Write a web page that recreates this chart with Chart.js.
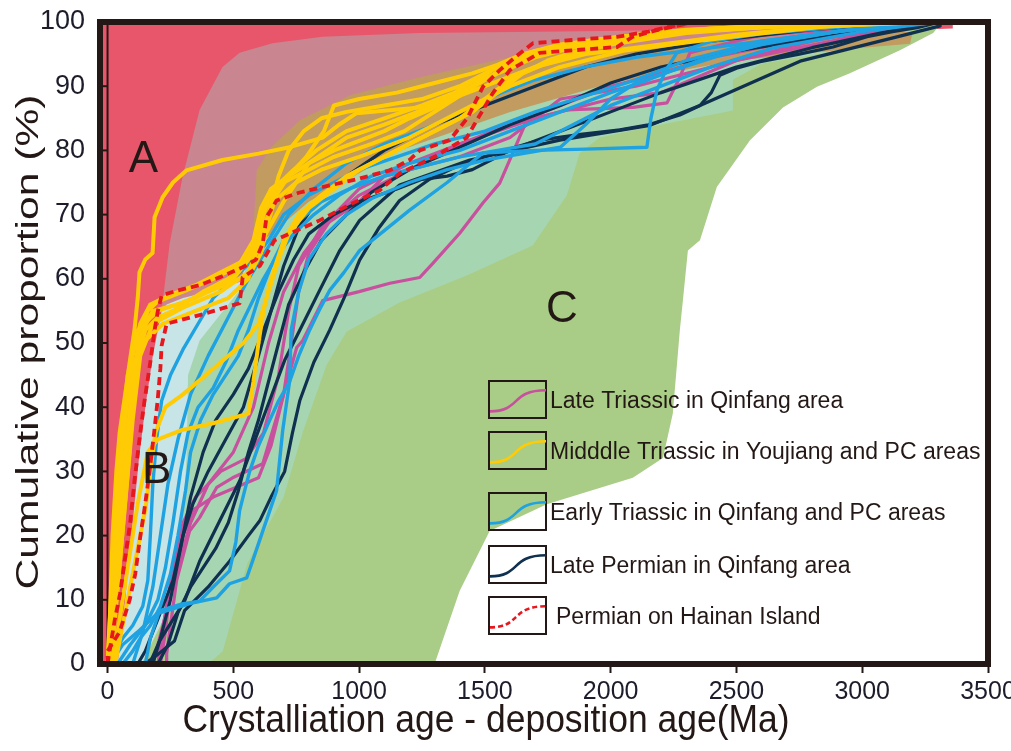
<!DOCTYPE html>
<html>
<head>
<meta charset="utf-8">
<script src="https://cdn.jsdelivr.net/npm/chart.js@4.4.0/dist/chart.umd.min.js"></script>
<style>
  html, body { margin: 0; padding: 0; background: #ffffff; }
  canvas { display: block; }
</style>
</head>
<body>
<canvas id="chart" width="1011" height="751"></canvas>
<script>
// Axis ticks
const xTicks = [0, 500, 1000, 1500, 2000, 2500, 3000, 3500];
const yTicks = [0, 10, 20, 30, 40, 50, 60, 70, 80, 90, 100];

// Tectonic-setting fields, outlined as [age difference (Ma), cumulative %]
const fieldA = [[-30,0],[-30,100],[3360,100],[3360,99],[2000,97],[1000,90],[600,75],[350,60],[260,50],[200,35],[150,20],[110,8],[80,0]];
const fieldB = [[40,0],[55,5],[70,10],[100,22],[125,32],[150,40],[180,48],[205,53],[215,55],[235,56.5],[300,57.5],[400,58.5],[525,60],[560,63.5],[577,66],[560,55],[450,40],[330,20],[270,0]];
const fieldAB = [[215,55.1],[247,65.5],[298,75.8],[366,86.3],[457,93],[525,95.2],[656,96.7],[855,97.7],[1241,98.3],[2000,98.6],[2800,99.2],[3340,100],[3200,97],[2500,93],[1500,85],[900,72],[600,66],[577,65.5],[540,61],[525,59.5],[400,58],[300,57],[235,56]];
const fieldC = [[135,0],[1300,0],[1400,11.4],[1519,20.7],[1746,24.9],[2088,29],[2208,32.1],[2247,39],[2275,52],[2287,56.6],[2307,64.4],[2355,66],[2422,74.3],[2554,81.6],[2685,86.7],[2820,89.9],[2951,92],[3150,95.6],[3282,98.3],[3301,99.2],[3330,100],[3100,98.5],[2500,94],[2000,88],[1500,80],[900,72],[600,62],[380,50],[320,30],[260,10]];
const fieldBC = [[230,0],[250,5],[286,15],[314,32],[320,45],[366,50.4],[525,58.2],[577,65.5],[800,74],[1160,82],[1600,88],[2000,91],[2500,94],[3000,96.5],[3200,97.5],[2600,93.5],[2486,91],[2486,86.2],[2355,85.2],[2223,84.2],[1957,82],[1877,79.6],[1826,73],[1690,65.2],[1428,60.5],[1161,56.3],[951,51.8],[871,46.6],[776,36.1],[700,26],[555,15.6],[458,2],[400,0]];
const fieldABC = [[577,65.5],[593,76.9],[650,80.5],[764,84.7],[963,88.6],[1241,91.4],[1679,95.2],[2355,97.2],[2800,97.6],[3000,98.4],[3120,98.8],[3200,98.3],[3190,96.6],[3000,96],[2500,94],[2000,90.5],[1600,86],[1160,80],[800,72],[590,65]];

// Cumulative age-difference curves, [Ma, %]
const lateTriassicQinfang = [
  [[235,0],[235,1.6],[274,12.9],[326,20.7],[366,22.8],[434,27.5],[497,29],[617,31.2],[656,36.3],[696,41.5],[752,49.3],[776,50.4],[855,56.6],[1000,58],[1122,59.3],[1241,60.2],[1293,62.4],[1400,67.1],[1492,71.8],[1559,74.9],[1611,79.6],[1667,84.7],[1826,86.3],[2088,86.7],[2224,87.4],[2275,91.4],[2315,95.2],[2600,98],[3300,100]],
  [[210,0],[230,5],[250,12],[300,20],[340,24],[420,26],[600,29],[650,34],[700,42],[730,50],[760,58],[800,64],[900,70],[1000,74],[1200,78],[1400,81],[1700,85],[2000,88],[2200,89],[2500,94],[3000,98],[3300,100]],
  [[200,0],[230,8],[260,15],[300,22],[350,26],[450,30],[550,32],[620,36],[680,45],[720,55],[760,62],[850,68],[1000,72],[1100,76],[1400,79],[1600,82],[1800,88],[2100,90],[2400,93],[2800,97],[3200,100]],
  [[180,0],[220,6],[270,14],[330,22],[400,28],[500,33],[580,40],[640,50],[700,58],[780,64],[880,69],[1000,73],[1200,77],[1400,81],[1600,84],[1800,87],[2000,90],[2200,92],[2400,94.5],[2700,96.8],[3000,98.3],[3300,100]]
];
const middleTriassicYoujiangPC = [
  [[0,0],[10,8],[20,20],[35,30],[48,36],[70,42],[88,47],[107,52],[120,57],[127,61],[150,63],[179,64],[187,69.6],[219,72.7],[260,75],[314,76.9],[457,78.5],[600,79.5],[724,80.5],[855,82],[920,84],[990,85.8],[1241,86.7],[1350,88],[1450,90],[1550,92],[1700,94.5],[1900,96.5],[2100,97.8],[2400,98.8],[2800,99.6],[3300,100]],
  [[0,0],[15,6],[30,12],[50,22],[70,32],[90,40],[110,47],[130,51],[160,55],[200,56.5],[300,58],[420,60],[520,62],[580,66],[610,71],[650,74],[720,76],[800,78],[900,80],[1000,81.5],[1100,83],[1200,85],[1320,87],[1420,89],[1500,91],[1580,93],[1700,95],[1900,96.8],[2200,98.2],[2600,99.3],[3300,100]],
  [[10,0],[25,5],[45,14],[65,23],[85,32],[105,42],[125,48],[150,52],[200,54],[260,55],[380,58],[480,60],[560,63],[600,68],[640,73],[700,75],[800,77],[900,79],[1050,81],[1180,83],[1300,86],[1400,88.5],[1480,91],[1560,93.5],[1650,95],[1800,96.5],[2000,97.5],[2300,98.8],[2800,99.7],[3200,100]],
  [[20,0],[40,5],[60,10],[80,15],[100,20],[120,25],[140,29],[160,33],[200,35],[300,36.5],[420,37.5],[560,39],[580,44],[600,50],[620,55],[650,60],[700,66],[760,70],[850,73],[950,76],[1100,79],[1250,82],[1400,85],[1500,88],[1600,91],[1750,94],[1950,96.5],[2300,98.5],[2800,99.6],[3300,100]],
  [[30,0],[60,6],[90,12],[120,18],[150,24],[170,30],[190,36],[230,40],[300,42],[420,46],[540,50],[600,53],[640,58],[680,63],[720,67],[800,71],[900,74],[1000,77],[1150,80],[1300,83],[1450,86],[1550,89],[1650,92],[1800,94.5],[2000,96.5],[2300,98.3],[2700,99.5],[3300,100]],
  [[0,0],[20,10],[40,22],[60,33],[80,42],[100,48],[130,53],[170,56],[250,57.5],[350,59],[450,61],[550,63],[600,66],[640,70],[680,76],[720,80],[780,83],[850,85],[950,86],[1100,87],[1250,88],[1400,90],[1550,93],[1700,95.5],[1900,97],[2200,98.5],[2700,99.6],[3200,100]],
  [[5,0],[25,8],[45,18],[70,30],[95,40],[115,47],[140,52],[180,55],[280,56],[400,58],[500,59.5],[570,61],[610,64],[640,69],[670,73],[720,76],[790,79],[860,83],[900,87],[1000,88],[1150,89],[1300,90.5],[1450,92],[1600,94],[1800,96],[2100,97.8],[2500,99],[3100,100]],
  [[0,0],[8,3],[15,10],[30,20],[50,30],[75,40],[100,46],[140,50],[220,53],[350,55],[480,57],[560,60],[590,64],[620,70],[660,74],[740,77],[830,80],[950,83],[1100,85],[1250,87],[1380,89],[1480,91.5],[1600,94],[1750,96],[2000,97.5],[2400,99],[3000,100]],
  [[0,0],[20,15],[45,30],[80,45],[120,52],[200,55],[350,57],[500,60],[600,65],[700,72],[800,78],[950,82],[1100,84],[1300,87],[1500,90],[1700,93],[1900,95],[2100,96],[2300,97],[2500,98],[2800,99.2],[3200,100]],
  [[10,0],[40,12],[70,25],[100,38],[130,48],[180,53],[300,55.5],[450,58],[560,61],[620,67],[660,72],[750,75],[850,77],[1000,79],[1200,82],[1400,86],[1600,90],[1800,93],[2050,95.5],[2300,96.8],[2550,98],[2850,99.3],[3250,100]]
];
const earlyTriassicQinfangPC = [
  [[150,0],[170,4],[207,8.3],[290,9.3],[366,9.8],[420,12],[485,14.5],[510,19],[525,23.9],[545,27],[565,30],[600,34],[644,37.9],[680,41],[724,44],[760,48],[803,52],[840,55],[883,58.2],[940,61],[1002,64.4],[1100,67.5],[1201,70.7],[1350,75],[1492,79.6],[1700,80],[1900,80.2],[2144,80.5],[2160,85],[2184,89.4],[2220,92.5],[2263,95.2],[2400,97],[2600,98.2],[3000,99.5],[3320,100]],
  [[10,0],[60,3],[120,5],[195,7.8],[326,9.4],[434,10.3],[485,12.5],[553,13.4],[577,16.1],[617,20.7],[672,27],[696,36.3],[724,44.1],[730,52],[760,58],[800,63],[870,67],[950,70],[1050,72.5],[1200,75],[1350,77],[1500,78.5],[1650,79.5],[1800,80.5],[1900,84],[2000,88],[2100,90.5],[2250,92.5],[2450,95],[2700,97.5],[3000,99],[3300,100]],
  [[0,0],[30,2],[60,4],[100,6],[140,9],[160,13],[170,20],[180,28],[195,35],[215,41],[250,45],[300,49],[360,53],[420,57],[500,60],[580,63],[640,66],[700,70],[800,73],[900,75],[1000,77],[1150,79],[1300,81],[1500,83],[1700,86],[1900,88.5],[2100,91],[2300,94],[2600,97],[3000,99],[3300,100]],
  [[40,0],[90,3],[150,6],[200,10],[230,15],[260,22],[290,30],[320,36],[360,40],[420,43],[470,47],[520,52],[570,56],[620,60],[680,64],[740,67],[820,70],[920,73],[1050,76],[1200,78],[1400,80],[1600,83],[1800,86],[2000,89],[2150,91],[2350,94],[2600,96.5],[2900,98.5],[3300,100]],
  [[60,0],[100,2],[130,4],[170,6],[210,9],[250,14],[280,20],[310,27],[330,33],[370,38],[420,42],[470,45],[520,48],[560,52],[600,57],[650,62],[700,66],[760,69],[850,72],[960,74],[1100,76],[1250,77.5],[1400,79],[1550,80],[1700,81],[1850,84],[2000,87],[2200,90],[2400,93],[2650,96],[3000,98.5],[3300,100]],
  [[100,0],[140,5],[180,12],[210,20],[240,28],[280,35],[330,42],[400,48],[480,54],[560,60],[640,65],[720,70],[820,74],[950,78],[1100,81],[1300,84],[1500,88],[1700,91],[1900,93],[2100,94.5],[2300,95.5],[2500,96.5],[2750,97.8],[3000,99],[3320,100]]
];
const latePermianQinfang = [
  [[147,0],[200,1.5],[266,3.6],[306,8.3],[400,12],[485,16],[560,20],[605,22.3],[650,26],[704,30],[735,36],[764,41],[820,47],[883,52],[940,57],[1002,62.9],[1080,68],[1161,72.2],[1280,75.5],[1400,77.7],[1560,79.8],[1718,81.6],[1880,82.5],[2037,83.2],[2150,84],[2275,85.5],[2355,87],[2400,89],[2434,91.7],[2500,92.8],[2594,93.8],[2750,95],[2884,96.1],[3019,97.7],[3120,98.5],[3218,99.1],[3290,99.8]],
  [[167,0],[207,3.6],[306,9.8],[366,16],[446,22.3],[525,28.5],[585,34.8],[644,41],[704,47.3],[764,52],[843,58.2],[923,64.4],[1002,69.1],[1161,74.6],[1440,78.5],[1798,81.6],[2156,83.9],[2355,87],[2753,93.9],[3150,97.8],[3310,99.4]],
  [[180,0],[210,4],[250,10],[290,18],[330,26],[380,33],[430,38],[500,42],[560,46],[620,52],[680,58],[740,63],[800,67],[900,70],[1000,72],[1150,74],[1250,75.5],[1350,76],[1450,77],[1600,80],[1800,83],[2000,86],[2200,89],[2500,93],[2800,96],[3100,98.5],[3300,100]],
  [[120,0],[150,2],[180,5],[220,9],[260,13],[300,20],[340,25],[400,30],[470,35],[540,40],[600,48],[650,55],[700,62],[760,68],[830,72],[950,76],[1100,80],[1300,84],[1500,87],[1700,90],[1900,93],[2100,95],[2400,97],[2800,98.8],[3200,100]],
  [[200,0],[240,3],[280,8],[330,12],[380,15],[430,18],[480,22],[520,27],[560,33],[600,38],[640,44],[680,50],[720,56],[780,61],[850,66],[950,70],[1050,73.5],[1200,77],[1400,80.5],[1600,84],[1800,87],[2000,90.5],[2200,93],[2500,95.5],[2900,98],[3250,100]]
];
const permianHainan = [
  [[0,0],[8,2],[28,6.7],[50,11],[68,16],[90,22],[107,28.5],[130,36],[147,41],[170,47],[187,52],[200,55],[215,57.4],[280,58.2],[366,59],[450,60.3],[537,61.8],[590,63],[617,65.5],[632,69.6],[672,72.2],[760,73.4],[855,74.3],[990,75.5],[1122,76.9],[1200,78.5],[1241,80],[1360,81.6],[1430,85],[1492,89.9],[1559,92.5],[1620,94.5],[1691,96.7],[1850,97.2],[2025,97.7],[2150,98.5],[2224,99.2],[2303,99.8]],
  [[0,0],[0,2],[48,5],[88,10],[110,14],[127,19],[150,25],[167,30],[185,36],[199,41],[210,46],[215,49.6],[235,53],[380,54.5],[525,56.2],[537,60.2],[605,62],[664,66],[750,67.5],[843,69.1],[960,71.5],[1082,73.8],[1161,76.4],[1300,79],[1428,82],[1480,85.5],[1531,88.9],[1599,92.5],[1718,95.2],[2025,96.1],[2088,97.7],[2180,98.7],[2275,99.5],[2335,100]]
];

// Legend entries, axis titles and field labels
const legendLabels = [
  'Late Triassic in Qinfang area',
  'Midddle Triassic in Youjiang and PC areas',
  'Early Triassic in Qinfang and PC areas',
  'Late Permian in Qinfang area',
  'Permian on Hainan Island'
];
const xTitle = 'Crystalliation age - deposition age(Ma)';
const yTitle = 'Cumulative proportion (%)';
const fieldLetters = [['A', 143, 78.6], ['B', 195, 30.1], ['C', 1806, 55.1]];

const INK = '#231815';
const COLORS = {
  late: '#c8509e', middle: '#ffcb05', early: '#1fa2e1', permian: '#10304f', hainan: '#e8161d'
};

const toXY = pts => pts.map(([x, y]) => ({ x, y }));

function fieldDataset(pts, color, order) {
  return { data: toXY(pts), fill: 'shape', backgroundColor: color, borderWidth: 0,
           borderColor: 'rgba(0,0,0,0)', pointRadius: 0, order };
}
function curveDatasets(group, color, order, width, dash) {
  return group.map(pts => ({
    data: toXY(pts), fill: false, borderColor: color, borderWidth: width,
    borderDash: dash || [], pointRadius: 0, order, borderJoinStyle: 'round', borderCapStyle: dash ? 'butt' : 'round'
  }));
}

const datasets = [
  fieldDataset(fieldA, '#e8566b', 100),
  fieldDataset(fieldB, '#c7e5e6', 99),
  fieldDataset(fieldAB, '#c98690', 98),
  fieldDataset(fieldC, '#a9cd86', 97),
  fieldDataset(fieldBC, '#a6d5b2', 96),
  fieldDataset(fieldABC, '#c19b5f', 95),
  { data: toXY([[0, 0], [0, 100]]), borderColor: INK, borderWidth: 2, pointRadius: 0, fill: false, order: 50 },
  ...curveDatasets(lateTriassicQinfang, COLORS.late, 6, 3.2),
  ...curveDatasets(latePermianQinfang, COLORS.permian, 5, 3.2),
  ...curveDatasets(earlyTriassicQinfangPC, COLORS.early, 4, 3.4),
  ...curveDatasets(middleTriassicYoujiangPC, COLORS.middle, 3, 4),
  ...curveDatasets(permianHainan, COLORS.hainan, 2, 3.8, [8, 5])
];

// text stretched to a given run length
function stretchedText(ctx, text, cx, cy, font, length, angle) {
  ctx.save();
  ctx.font = font;
  const w = ctx.measureText(text).width;
  ctx.translate(cx, cy);
  ctx.rotate(angle);
  ctx.scale(length / w, 1);
  ctx.textAlign = 'center';
  ctx.textBaseline = 'middle';
  ctx.fillText(text, 0, 0);
  ctx.restore();
}

// Frame, inward y ticks, field letters, axis titles and legend
const decorations = {
  id: 'decorations',
  afterDatasetsDraw(chart) {
    const { ctx, chartArea: a, scales: { x, y } } = chart;
    ctx.save();
    ctx.fillStyle = INK;
    ctx.font = '44px "Liberation Sans", Arial, sans-serif';
    ctx.textAlign = 'center';
    ctx.textBaseline = 'middle';
    fieldLetters.forEach(([t, vx, vy]) => ctx.fillText(t, x.getPixelForValue(vx), y.getPixelForValue(vy)));

    // legend
    const bx = 489, bw = 57, bh = 37;
    const rows = [381, 432, 493, 546, 597];
    const cols = [COLORS.late, COLORS.middle, COLORS.early, COLORS.permian, COLORS.hainan];
    ctx.font = '23px "Liberation Sans", Arial, sans-serif';
    ctx.textAlign = 'left';
    rows.forEach((top, i) => {
      ctx.lineWidth = 2;
      ctx.strokeStyle = INK;
      ctx.setLineDash([]);
      ctx.strokeRect(bx, top, bw, bh);
      ctx.beginPath();
      const x0 = bx + 1, y0 = top + bh * 0.82, x1 = bx + bw, y1 = top + bh * 0.25;
      ctx.moveTo(x0, y0);
      ctx.bezierCurveTo(x0 + bw * 0.55, y0, x0 + bw * 0.35, y1, x1, y1);
      ctx.strokeStyle = cols[i];
      ctx.lineWidth = 2.6;
      if (i === 4) ctx.setLineDash([5, 3]);
      ctx.stroke();
      ctx.setLineDash([]);
      ctx.fillStyle = INK;
      ctx.fillText(legendLabels[i], i === 4 ? 556 : 550, top + bh / 2 + 2);
    });

    // axis titles
    ctx.fillStyle = INK;
    stretchedText(ctx, xTitle, 486, 722, '38px "Liberation Sans", Arial, sans-serif', 607, 0);
    stretchedText(ctx, yTitle, 29, 342, '31px "Liberation Sans", Arial, sans-serif', 495, -Math.PI / 2);

    // inward y ticks
    ctx.strokeStyle = INK;
    ctx.lineWidth = 2;
    yTicks.forEach(v => {
      const py = y.getPixelForValue(v);
      ctx.beginPath(); ctx.moveTo(a.left, py); ctx.lineTo(a.left + 8, py); ctx.stroke();
    });
    // frame
    ctx.lineWidth = 6;
    ctx.strokeRect(a.left, a.top, a.right - a.left, a.bottom - a.top);
    ctx.restore();
  }
};

new Chart(document.getElementById('chart'), {
  type: 'line',
  data: { datasets },
  options: {
    responsive: false,
    animation: false,
    devicePixelRatio: 1,
    layout: { padding: { left: 0, right: 23, top: 22, bottom: 0 } },
    plugins: { legend: { display: false }, tooltip: { enabled: false } },
    elements: { line: { tension: 0 }, point: { radius: 0 } },
    scales: {
      x: {
        type: 'linear', min: -30, max: 3500,
        afterBuildTicks: s => { s.ticks = xTicks.map(v => ({ value: v })); },
        afterFit: s => { s.height = 87; s.paddingLeft = 0; s.paddingRight = 0; },
        grid: { drawOnChartArea: false, drawTicks: true, tickLength: 9, tickWidth: 2, tickColor: INK },
        border: { display: false },
        ticks: { padding: 4, color: '#1c1c2a', callback: v => String(v),
                 font: { family: '"Liberation Sans", Arial', size: 25 }, maxRotation: 0, autoSkip: false }
      },
      y: {
        type: 'linear', min: 0, max: 100,
        afterBuildTicks: s => { s.ticks = yTicks.map(v => ({ value: v })); },
        afterFit: s => { s.width = 100; s.paddingTop = 0; s.paddingBottom = 0; },
        grid: { display: false, drawTicks: false },
        border: { display: false },
        ticks: { padding: 15, color: '#1c1c2a', callback: v => String(v),
                 font: { family: '"Liberation Sans", Arial', size: 27 } }
      }
    }
  },
  plugins: [decorations]
});
</script>
</body>
</html>
